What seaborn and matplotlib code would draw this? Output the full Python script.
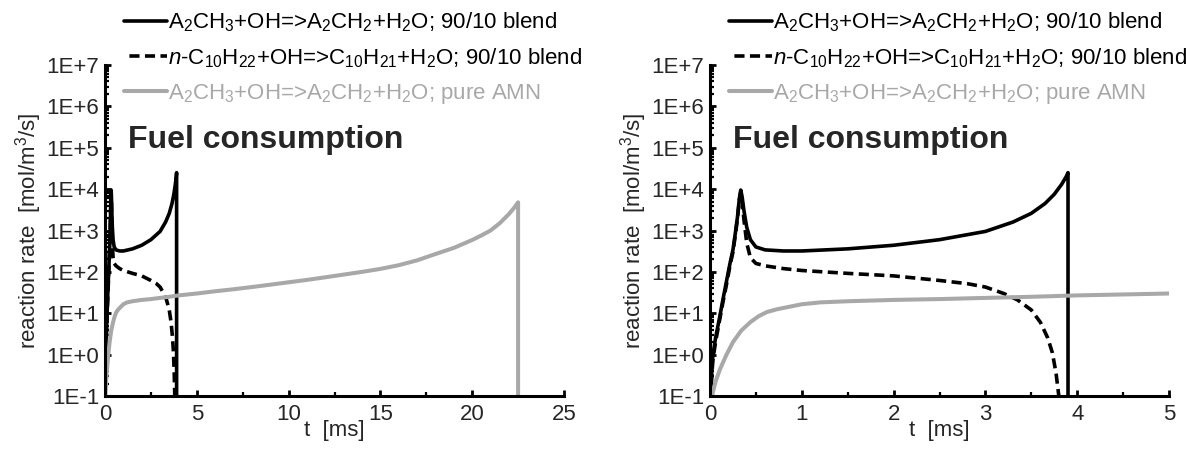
import numpy as np
import pandas as pd
import matplotlib
matplotlib.use("Agg")
import matplotlib.pyplot as plt
import matplotlib.ticker as mticker
import seaborn as sns

# --- reaction rates vs time [ms], rates in mol/m^3/s ---
# A2CH3 + OH => A2CH2 + H2O, 90/10 blend
t_a2_blend = [0.0, 0.03, 0.06, 0.10, 0.14, 0.18, 0.22, 0.25, 0.28, 0.30, 0.32, 0.335,
              0.35, 0.37, 0.40, 0.44, 0.50, 0.60, 0.80, 1.0, 1.5, 2.0, 2.5, 3.0,
              3.3, 3.5, 3.65, 3.75, 3.83, 3.88, 3.90, 3.90]
r_a2_blend = [0.08, 0.9, 2.5, 7, 21, 60, 170, 340, 1000, 2200, 6000, 9500,
              6500, 3000, 1200, 600, 400, 340, 320, 320, 360, 440, 600, 950,
              1600, 2600, 4500, 7500, 13000, 20000, 25000, 0.001]

# n-C10H22 + OH => C10H21 + H2O, 90/10 blend
t_nc10_blend = [0.0, 0.03, 0.06, 0.10, 0.14, 0.18, 0.22, 0.25, 0.28, 0.30, 0.32, 0.335,
                0.35, 0.37, 0.40, 0.44, 0.50, 0.60, 0.80, 1.0, 1.5, 2.0, 2.5, 2.8,
                3.0, 3.2, 3.35, 3.5, 3.6, 3.68, 3.73, 3.77, 3.80, 3.82]
r_nc10_blend = [0.06, 0.7, 2, 6, 18, 50, 150, 300, 900, 2000, 5500, 8500,
                5000, 1800, 500, 220, 160, 140, 120, 108, 92, 80, 62, 52,
                43, 30, 21, 12, 6, 2.5, 1.1, 0.35, 0.1, 0.03]

# A2CH3 + OH => A2CH2 + H2O, pure AMN
t_a2_pure = [0.0, 0.03, 0.06, 0.11, 0.18, 0.25, 0.34, 0.44, 0.53, 0.62, 0.73, 0.84,
             1.0, 1.2, 1.5, 2.0, 2.5, 3.0, 3.5, 4.0, 5.0, 6.0, 7.0, 8.0, 9.0, 10.0,
             11.0, 12.0, 13.0, 14.0, 15.0, 16.0, 17.0, 18.0, 19.0, 20.0, 20.5, 21.0,
             21.5, 22.0, 22.3, 22.5, 22.5]
r_a2_pure = [0.05, 0.12, 0.22, 0.45, 1.0, 2.0, 3.8, 6.1, 8.5, 10.7, 12.5, 14,
             16.5, 18.3, 19.5, 21, 22, 23.5, 25, 27, 30, 34, 38, 43, 49, 56,
             64, 74, 86, 100, 118, 145, 190, 270, 380, 590, 760, 1000,
             1500, 2500, 3600, 4800, 0.001]

series_labels = [
    r"A$_2$CH$_3$+OH=>A$_2$CH$_2$+H$_2$O; 90/10 blend",
    r"$\mathit{n}$-C$_{10}$H$_{22}$+OH=>C$_{10}$H$_{21}$+H$_2$O; 90/10 blend",
    r"A$_2$CH$_3$+OH=>A$_2$CH$_2$+H$_2$O; pure AMN",
]

x_limits = [(0, 25), (0, 5)]
x_major = [5, 1]
y_decades = [-1, 0, 1, 2, 3, 4, 5, 6, 7]
panel_title = "Fuel consumption"

sns.set_theme(style="ticks")
plt.rcParams["font.family"] = ["Liberation Sans", "DejaVu Sans"]
plt.rcParams["mathtext.fontset"] = "custom"
plt.rcParams["mathtext.rm"] = "Liberation Sans"
plt.rcParams["mathtext.it"] = "Liberation Sans:italic"
plt.rcParams["mathtext.bf"] = "Liberation Sans:bold"
plt.rcParams["mathtext.default"] = "regular"

GRAY = "#a8a8a8"
styles = [
    dict(color="black", lw=2.6, ls="-"),
    dict(color="black", lw=2.6, ls=(2.8, (2.8, 1.5))),
    dict(color=GRAY, lw=2.9, ls="-"),
]
datasets = [(t_a2_blend, r_a2_blend), (t_nc10_blend, r_nc10_blend), (t_a2_pure, r_a2_pure)]

fig = plt.figure(figsize=(11.9, 4.53), dpi=100)
ax_w, ax_h = 459 / 1190, 331 / 453
ax_b = (453 - 396) / 453
axes = [fig.add_axes([105 / 1190, ax_b, ax_w, ax_h]),
        fig.add_axes([710 / 1190, ax_b, ax_w, ax_h])]

fs = 16
for ax, xl, xm in zip(axes, x_limits, x_major):
    handles = []
    for (t, r), st, lab in zip(datasets, styles, series_labels):
        df = pd.DataFrame({"t": t, "r": r})
        sns.lineplot(data=df, x="t", y="r", ax=ax, sort=False, estimator=None,
                     color=st["color"], linewidth=st["lw"], linestyle=st["ls"],
                     label=lab, legend=False)
        handles.append(ax.lines[-1])

    ax.set_yscale("log")
    ax.set_xlim(*xl)
    ax.set_ylim(10.0 ** y_decades[0], 10.0 ** y_decades[-1])
    ax.yaxis.set_major_locator(mticker.FixedLocator([10.0 ** d for d in y_decades]))
    ax.yaxis.set_major_formatter(mticker.FuncFormatter(
        lambda v, p: f"1E{int(round(np.log10(v))):+d}"))
    ax.yaxis.set_minor_locator(mticker.LogLocator(base=10, subs=np.arange(2, 10), numticks=20))
    ax.yaxis.set_minor_formatter(mticker.NullFormatter())
    ax.xaxis.set_major_locator(mticker.MultipleLocator(xm))
    ax.xaxis.set_minor_locator(mticker.MultipleLocator(xm / 2))

    for side in ("top", "right"):
        ax.spines[side].set_visible(False)
    for side in ("left", "bottom"):
        ax.spines[side].set_linewidth(2.2)
        ax.spines[side].set_color("black")
    ax.tick_params(which="major", direction="in", length=4.5, width=2.0,
                   labelsize=fs, color="black")
    ax.tick_params(which="minor", direction="in", length=2.8, width=1.6, color="black")
    ax.tick_params(axis="y", which="major", pad=4)
    ax.tick_params(axis="x", which="major", pad=6)

    ax.set_xlabel("t  [ms]", fontsize=fs, labelpad=-4)
    ax.set_ylabel(r"reaction rate  [mol/m$^3$/s]", fontsize=fs, labelpad=2)
    ax.set_facecolor("white")
    ax.grid(False)

    ax.text(0.05, 0.773, panel_title, transform=ax.transAxes, fontsize=23,
            fontweight="bold", va="center", ha="left")

    leg = ax.legend(handles=handles, labels=series_labels, loc="upper left",
                    bbox_to_anchor=(0.041, 1.165), frameon=False, fontsize=fs,
                    handlelength=1.95, handletextpad=0.05, labelspacing=0.54,
                    borderpad=0, borderaxespad=0)
    for txt, st in zip(leg.get_texts(), styles):
        txt.set_color(st["color"])
    leg.set_zorder(5)

fig.savefig("out.png", dpi=100, facecolor="white")
